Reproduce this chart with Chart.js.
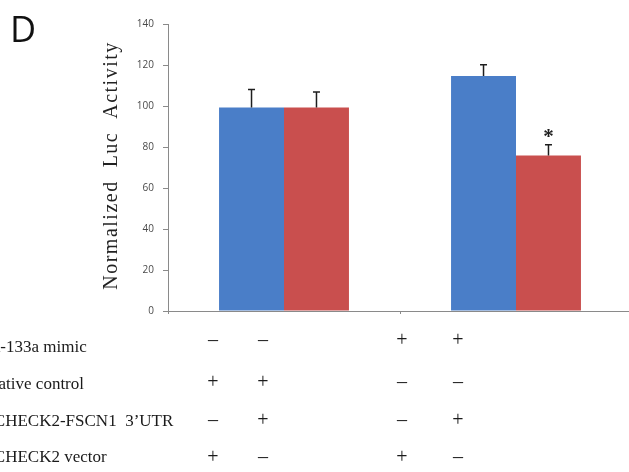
<!DOCTYPE html>
<html>
<head>
<meta charset="utf-8">
<script src="https://cdn.jsdelivr.net/npm/chart.js@4.4.1/dist/chart.umd.min.js"></script>
<style>
  html, body { margin: 0; padding: 0; background: #fff; overflow: hidden; }
  #wrap { position: absolute; left: 0; top: 0; width: 632px; height: 472px; }
</style>
</head>
<body>
<div id="wrap"><canvas id="c" width="632" height="472"></canvas></div>
<script>
// Luciferase reporter assay: two transfection groups, vector vs. 3'UTR construct
const categories = ['Negative control', 'miR-133a mimic'];
const vectorValues = [99.3, 114.6];
const vectorErrors = [8.8, 5.5];
const utrValues = [99.3, 75.9];
const utrErrors = [7.5, 5.2];
const significant = [[false, false], [false, true]]; // [dataset][category]

const yTicks = [0, 20, 40, 60, 80, 100, 120, 140];

// Transfection table shown under the axis
const rowLabels = ['miR-133a mimic', 'negative control', 'psiCHECK2-FSCN1  3\u2019UTR', 'psiCHECK2 vector'];
const rowSigns = [
  ['-', '-', '+', '+'],
  ['+', '+', '-', '-'],
  ['-', '+', '-', '+'],
  ['+', '-', '+', '-']
];

// layout
const PLOT_LEFT = 168, PLOT_TOP = 24, PLOT_BOTTOM = 311, CANVAS_H = 472;
const colX = [213, 263, 402, 458];
const labelRowY = [348, 385, 422, 458];
const labelRowX = [-29, -26, -26, -26];
const signRowY = [341, 383, 421, 458];

const extras = {
  id: 'extras',
  afterDatasetsDraw(chart) {
    const ctx = chart.ctx;
    const y = chart.scales.y;
    const errs = [vectorErrors, utrErrors];
    ctx.save();
    // error bars
    ctx.strokeStyle = '#1e1e1e';
    ctx.lineWidth = 1.5;
    chart.data.datasets.forEach((ds, i) => {
      const meta = chart.getDatasetMeta(i);
      meta.data.forEach((bar, j) => {
        const topVal = ds.data[j] + errs[i][j];
        const yt = y.getPixelForValue(topVal);
        ctx.beginPath();
        ctx.moveTo(bar.x, bar.y);
        ctx.lineTo(bar.x, yt);
        ctx.moveTo(bar.x - 3.5, yt);
        ctx.lineTo(bar.x + 3.5, yt);
        ctx.stroke();
        if (significant[i][j]) {
          ctx.fillStyle = '#1e1e1e';
          ctx.font = 'bold 21px "Liberation Serif"';
          ctx.textAlign = 'center';
          ctx.textBaseline = 'middle';
          ctx.fillText('*', bar.x, yt - 7);
        }
      });
    });
    ctx.restore();
  },
  afterDraw(chart) {
    const ctx = chart.ctx;
    const area = chart.chartArea;
    ctx.save();
    // panel letter
    ctx.fillStyle = '#111';
    ctx.font = '36px "Open Sans"';
    ctx.textAlign = 'left';
    ctx.textBaseline = 'alphabetic';
    ctx.fillText('D', 10, 42);

    // y axis title
    ctx.save();
    ctx.translate(112, (area.top + area.bottom) / 2 - 2);
    ctx.rotate(-Math.PI / 2);
    ctx.font = '20px "Liberation Serif"';
    ctx.letterSpacing = '1.5px';
    ctx.fillStyle = '#222';
    ctx.textAlign = 'center';
    ctx.textBaseline = 'middle';
    ctx.fillText('Normalized  Luc  Activity', 0, 0);
    ctx.restore();

    // table
    ctx.fillStyle = '#1a1a1a';
    ctx.font = '17px "Liberation Serif"';
    ctx.textAlign = 'left';
    ctx.textBaseline = 'middle';
    rowLabels.forEach((t, r) => ctx.fillText(t, labelRowX[r], labelRowY[r]));
    ctx.font = '20px "Liberation Serif"';
    ctx.textAlign = 'center';
    rowSigns.forEach((row, r) => {
      row.forEach((s, c) => {
        ctx.fillText(s === '+' ? '+' : '\u2013', colX[c], signRowY[r]);
      });
    });
    ctx.restore();
  }
};

new Chart(document.getElementById('c'), {
  type: 'bar',
  data: {
    labels: categories,
    datasets: [
      { label: 'psiCHECK2 vector', data: vectorValues, backgroundColor: '#4a7ec8', borderWidth: 0 },
      { label: 'psiCHECK2-FSCN1 3\u2019UTR', data: utrValues, backgroundColor: '#c94f4e', borderWidth: 0 }
    ]
  },
  options: {
    responsive: false,
    devicePixelRatio: 1,
    animation: false,
    layout: { padding: { top: PLOT_TOP, left: 0, right: 0, bottom: 0 } },
    plugins: { legend: { display: false }, tooltip: { enabled: false } },
    datasets: { bar: { categoryPercentage: 0.56, barPercentage: 1.0 } },
    scales: {
      x: {
        type: 'category',
        ticks: { display: false },
        grid: { display: true, offset: true, drawOnChartArea: false, drawTicks: true, tickLength: 3, color: '#8a8a8a' },
        border: { display: true, color: '#8a8a8a', width: 1 },
        afterFit(scale) { scale.height = CANVAS_H - PLOT_BOTTOM; }
      },
      y: {
        min: 0, max: 140,
        afterBuildTicks(scale) { scale.ticks = yTicks.map(v => ({ value: v })); },
        ticks: { color: '#4a4a4a', font: { family: 'Open Sans', size: 10 }, padding: 9 },
        grid: { display: true, drawOnChartArea: false, drawTicks: true, tickLength: 5, color: '#8a8a8a' },
        border: { display: true, color: '#8a8a8a', width: 1 },
        afterFit(scale) { scale.width = PLOT_LEFT; }
      }
    }
  },
  plugins: [extras]
});
</script>
</body>
</html>
